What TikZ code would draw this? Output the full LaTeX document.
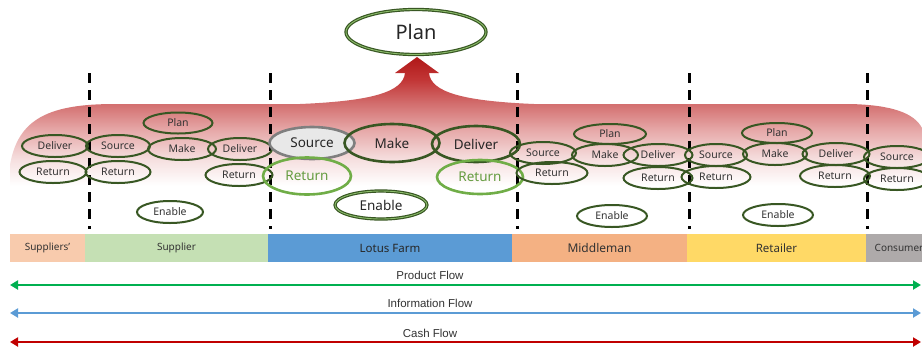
\documentclass[tikz,border=0pt]{standalone}
\usepackage{fontspec}
\setmainfont{Noto Sans}
\newfontfamily\flowfont{Liberation Sans}
\usetikzlibrary{shapes.geometric,arrows.meta}

% palette
\definecolor{ringdark}{HTML}{385723}
\definecolor{ringlight}{HTML}{70AD47}
\definecolor{ringgray}{HTML}{7F7F7F}
\definecolor{suppliersclr}{HTML}{F8CBAD}
\definecolor{supplierclr}{HTML}{C5E0B4}
\definecolor{lotusclr}{HTML}{5B9BD5}
\definecolor{middleclr}{HTML}{F4B183}
\definecolor{retailclr}{HTML}{FFD966}
\definecolor{consumerclr}{HTML}{AEAAAA}
\definecolor{productclr}{HTML}{00B050}
\definecolor{infoclr}{HTML}{5B9BD5}
\definecolor{cashclr}{HTML}{C00000}
\definecolor{fadeA}{HTML}{F6E0E0}
\definecolor{fadeB}{HTML}{E6A8A8}
\definecolor{fadeC}{HTML}{D26C6C}
\definecolor{fadeD}{HTML}{C23636}
\definecolor{fadeE}{HTML}{B01818}

% red band fading into white, tip of the arrow darkest
\pgfdeclareverticalshading{bandfade}{100bp}{%
  color(0bp)=(white); color(30bp)=(white); color(39bp)=(fadeA);
  color(49.5bp)=(fadeB); color(59bp)=(fadeC); color(67bp)=(fadeD);
  color(75bp)=(fadeE); color(100bp)=(fadeE)}

\tikzset{
  phase/.style={ellipse, draw=ringdark, line width=2pt, inner sep=0pt,
    minimum height=22pt, text=black!80, font=\fontsize{10.5}{12}\selectfont},
  bigphase/.style={ellipse, draw=ringdark, line width=2.6pt, inner sep=0pt,
    text=black!85, font=\fontsize{13.5}{15}\selectfont},
  ringed/.style={draw=ringdark, double=ringlight!80, double distance=0.9pt, line width=1.2pt},
  retring/.style={draw=ringlight, text=ringlight!90!black},
  band/.style={rectangle, inner sep=0pt, minimum height=28pt, text=black!80,
    font=\fontsize{10}{11}\selectfont},
  divider/.style={black, line width=3pt, dash pattern=on 10pt off 7pt},
  flow/.style={line width=2.6pt, {Triangle[length=8pt,width=9pt]}-{Triangle[length=8pt,width=9pt]}},
  flowlabel/.style={font=\flowfont\fontsize{11.5}{13}\selectfont, text=black!80}
}

\begin{document}
\begin{tikzpicture}[x=1pt,y=-1pt]
\useasboundingbox (0,0) rectangle (922,349);
\clip (0,0) rectangle (922,349);
\fill[white] (0,0) rectangle (922,349);

% shaded band with the upward arrow towards the overall plan
\shade[shading=bandfade]
  (10,200) -- (10,165) .. controls (18,118) and (50,104) .. (115,104)
  -- (300,104) .. controls (372,101) and (403,92) .. (405,73)
  -- (395,73) -- (417,57) -- (439,73) -- (429,73)
  .. controls (431,92) and (462,101) .. (534,104)
  -- (850,104) .. controls (892,105) and (914,113) .. (922,128)
  -- (922,200) -- cycle;

% boundaries between the members of the chain
\foreach \xx/\nm in {89/d1,270/d2,517/d3,689/d4,867/d5}{
  \coordinate (\nm-top) at (\xx,73);
  \coordinate (\nm-bot) at (\xx,229);
  \draw[divider] (\nm-top) -- (\nm-bot);
}

% overall plan
\node[bigphase, ringed, minimum width=140pt, minimum height=45pt,
      font=\fontsize{20}{22}\selectfont] (plan) at (416,32) {Plan};

% suppliers' supplier
\node[phase, minimum width=66pt] (ss-deliver) at (55,146) {Deliver};
\node[phase, minimum width=67pt] (ss-return) at (53,172) {Return};

% supplier
\node[phase, minimum width=69pt, minimum height=21pt] (s-plan) at (178,123) {Plan};
\node[phase, minimum width=64pt] (s-source) at (118,146) {Source};
\node[phase, minimum width=68pt] (s-make) at (182,149) {Make};
\node[phase, minimum width=64pt] (s-deliver) at (240,149) {Deliver};
\node[phase, minimum width=65pt] (s-return-a) at (118,172) {Return};
\node[phase, minimum width=67pt] (s-return-b) at (239,175) {Return};
\node[phase, minimum width=66pt] (s-enable) at (170,212) {Enable};

% lotus farm
\node[bigphase, draw=ringgray, fill=gray!18, minimum width=85pt, minimum height=32pt] (l-source) at (312,143) {Source};
\node[bigphase, minimum width=95pt, minimum height=38pt] (l-make) at (392,143) {Make};
\node[bigphase, minimum width=88pt, minimum height=36pt] (l-deliver) at (476,144) {Deliver};
\node[bigphase, retring, minimum width=88pt, minimum height=37pt] (l-return-a) at (307,176) {Return};
\node[bigphase, retring, minimum width=86pt, minimum height=34pt] (l-return-b) at (480,177) {Return};
\node[bigphase, ringed, minimum width=92pt, minimum height=28pt] (l-enable) at (381,205) {Enable};

% middleman
\node[phase, minimum width=72pt, minimum height=20pt] (m-plan) at (610,134) {Plan};
\node[phase, minimum width=66pt] (m-source) at (543,153) {Source};
\node[phase, minimum width=66pt] (m-make) at (605,155) {Make};
\node[phase, minimum width=69pt] (m-deliver) at (658,155) {Deliver};
\node[phase, minimum width=71pt] (m-return-a) at (552,173) {Return};
\node[phase, minimum width=69pt] (m-return-b) at (658,178) {Return};
\node[phase, minimum width=70pt] (m-enable) at (612,216) {Enable};

% retailer
\node[phase, minimum width=70pt, minimum height=20pt] (r-plan) at (777,133) {Plan};
\node[phase, minimum width=62pt] (r-source) at (716,155) {Source};
\node[phase, minimum width=64pt] (r-make) at (775,154) {Make};
\node[phase, minimum width=67pt] (r-deliver) at (836,154) {Deliver};
\node[phase, minimum width=69pt] (r-return-a) at (716,177) {Return};
\node[phase, minimum width=70pt] (r-return-b) at (835,176) {Return};
\node[phase, minimum width=70pt] (r-enable) at (778,215) {Enable};

% consumer
\node[phase, minimum width=66pt] (c-source) at (897,157) {Source};
\node[phase, minimum width=66pt] (c-return) at (897,179) {Return};

% members of the chain
\node[band, fill=suppliersclr, minimum width=75pt] (b-suppliers) at (47.5,248) {Suppliers'};
\node[band, fill=supplierclr, minimum width=183pt] (b-supplier) at (176.5,248) {Supplier};
\node[band, fill=lotusclr, minimum width=244pt, text=black!85,
      font=\fontsize{11.5}{13}\selectfont\bfseries] (b-lotus) at (390,248) {Lotus Farm};
\node[band, fill=middleclr, minimum width=175pt, font=\fontsize{12}{13}\selectfont] (b-middle) at (599.5,248) {Middleman};
\node[band, fill=retailclr, minimum width=179pt, font=\fontsize{11.5}{13}\selectfont] (b-retail) at (776.5,248) {Retailer};
\node[band, fill=consumerclr, minimum width=66pt, font=\fontsize{10}{11}\selectfont] (b-consumer) at (899,248) {Consumer};

% flows along the chain
\coordinate (pf-l) at (10,285);  \coordinate (pf-r) at (921,285);
\coordinate (if-l) at (10,313);  \coordinate (if-r) at (921,313);
\coordinate (cf-l) at (10,342);  \coordinate (cf-r) at (921,342);
\draw[flow, productclr] (pf-l) -- (pf-r);
\draw[flow, infoclr] (if-l) -- (if-r);
\draw[flow, cashclr] (cf-l) -- (cf-r);
\node[flowlabel] (pf-label) at (430,275) {Product Flow};
\node[flowlabel] (if-label) at (430,303) {Information Flow};
\node[flowlabel] (cf-label) at (430,333) {Cash Flow};
\end{tikzpicture}
\end{document}
